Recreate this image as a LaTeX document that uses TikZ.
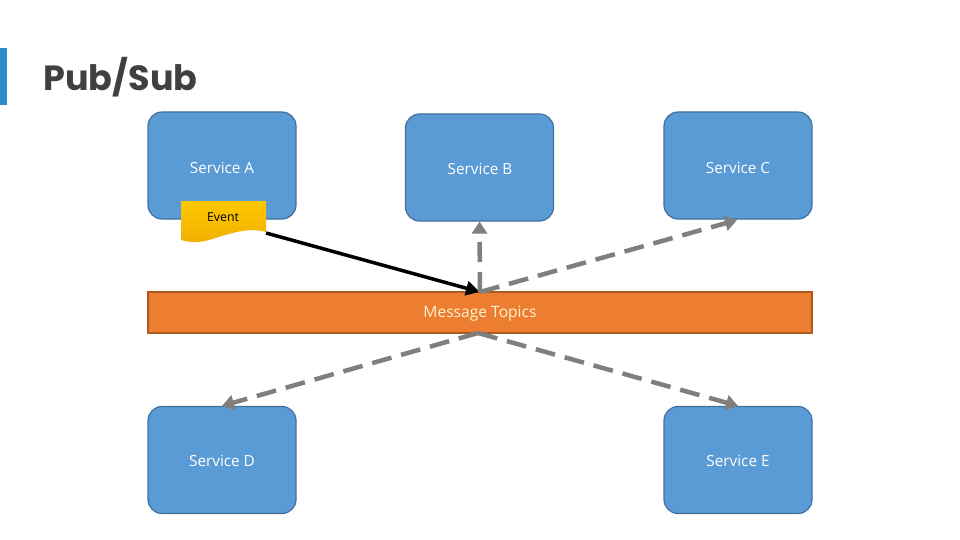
\documentclass[tikz,border=0pt]{standalone}
\usepackage{fontspec}
\setmainfont{Open Sans}
\newfontfamily\titlefont{Poppins}
\usetikzlibrary{arrows.meta,positioning,calc}
\definecolor{svcfill}{HTML}{5B9BD5}
\definecolor{svcline}{HTML}{41719C}
\definecolor{topicfill}{HTML}{ED7D31}
\definecolor{topicline}{HTML}{AE5A21}
\definecolor{titlegray}{HTML}{404040}
\definecolor{barblue}{HTML}{2E8BCB}
\definecolor{evtop}{HTML}{FFC800}
\definecolor{evbot}{HTML}{F0B000}
\definecolor{dashgray}{HTML}{7F7F7F}
\definecolor{cream}{HTML}{FFF2CC}
\begin{document}
\begin{tikzpicture}[x=1pt,y=-1pt,
  svc/.style={draw=svcline,line width=1.2pt,fill=svcfill,rounded corners=14pt,
    minimum width=148pt,minimum height=107pt,inner sep=0pt,text=white,font=\fontsize{15.3}{17}\selectfont},
  svclabel/.style={text=white,font=\fontsize{15.3}{17}\selectfont},
  topic/.style={draw=topicline,line width=1.2pt,fill=topicfill,minimum width=664pt,
    minimum height=41pt,inner sep=0pt,text=cream,font=\fontsize{15.6}{18}\selectfont},
  pubarrow/.style={line width=3.5pt,-{Triangle[length=14pt,width=14pt]}},
  subarrow/.style={draw=dashgray,line width=4.5pt,dash pattern=on 20pt off 10pt,
    -{Triangle[length=12pt,width=15pt]}}]
\useasboundingbox (0,0) rectangle (960,540);
\fill[white] (0,0) rectangle (960,540);
% title
\fill[barblue] (0,48) rectangle (7,105);
\node[anchor=west,text=titlegray,font=\titlefont\bfseries\fontsize{35}{39}\selectfont] (title) at (40,77) {Pub/Sub};
% services
\node[svc] (A) at (222,165.5) {};
\node[svclabel] (Alab) at (222,167.5) {Service A};
\node[svc] (B) at (479.5,167.5) {};
\node[svclabel] (Blab) at (480,168.5) {Service B};
\node[svc] (C) at (738,165.5) {};
\node[svclabel] (Clab) at (738,167.5) {Service C};
\node[svc] (D) at (222,460) {};
\node[svclabel] (Dlab) at (222,460.5) {Service D};
\node[svc] (E) at (738,460) {};
\node[svclabel] (Elab) at (738,460.5) {Service E};
% topic bar
\node[topic] (T) at (480,312.5) {};
\node[text=cream,font=\fontsize{15.6}{18}\selectfont] (Tlab) at (480,313.5) {Message Topics};
\coordinate (Ttop) at (480,292);
\coordinate (Tbot) at (478,333);
% event document shape
\shade[top color=evtop,bottom color=evbot]
  (181,201) -- (266,201) -- (266,232)
  .. controls (245,226) and (225,236) .. (205,241)
  .. controls (195,243) and (188,242) .. (181,240) -- cycle;
\node[font=\fontsize{12.3}{14}\selectfont,text=black] (ev) at (223,217.5) {Event};
\coordinate (evout) at (266,233);
% arrows
\draw[pubarrow] (evout) -- (Ttop);
\draw[subarrow] (Ttop) -- (B.south);
\draw[subarrow] (Ttop) -- (737,220);
\draw[subarrow] (Tbot) -- (D.north);
\draw[subarrow] (Tbot) -- (E.north);
\end{tikzpicture}
\end{document}
